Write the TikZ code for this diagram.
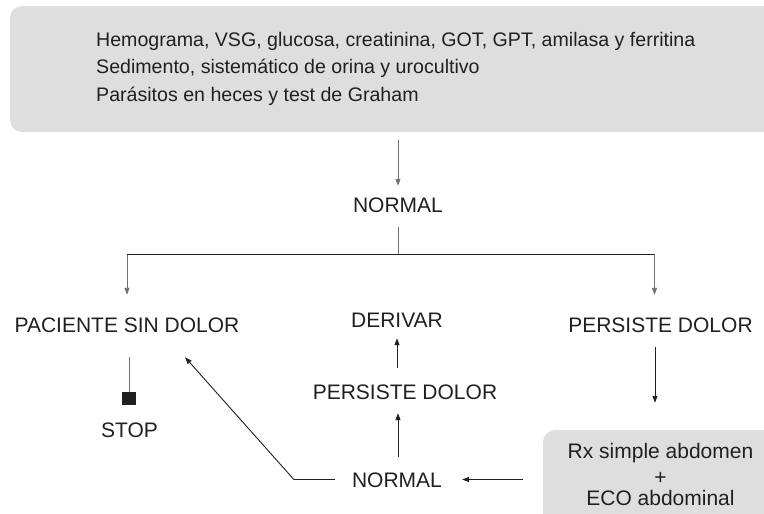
\documentclass[tikz,border=0pt]{standalone}
\usepackage{fontspec}
\setmainfont{Liberation Sans}
\usetikzlibrary{arrows.meta}
\definecolor{boxgray}{HTML}{DEDEDE}
\definecolor{ink}{HTML}{231F20}
\definecolor{lgray}{HTML}{707070}
\begin{document}
\begin{tikzpicture}[x=1pt,y=-1pt,
  lbl/.style={inner sep=0pt, anchor=base, text=ink, font=\fontsize{21}{25}\selectfont, text height=15pt, text depth=0pt},
  boxtxt/.style={inner sep=0pt, anchor=base west, text=ink, font=\fontsize{19.6}{23}\selectfont},
  gbox/.style={rectangle, rounded corners=12pt, fill=boxgray, inner sep=0pt},
  arr/.style={draw=ink, line width=0.9pt, -{Triangle[length=7pt,width=5pt]}},
  ln/.style={draw=ink, line width=0.9pt},
  sq/.style={fill=ink, inner sep=0pt, minimum width=14pt, minimum height=13pt}]
\useasboundingbox (0,0) rectangle (764,514);
\clip (0,0) rectangle (764,514);
% top box
\node[gbox, minimum width=770pt, minimum height=126pt] (box1) at (395,69) {};
\node[boxtxt] (t1) at (96,46) {Hemograma, VSG, glucosa, creatinina, GOT, GPT, amilasa y ferritina};
\node[boxtxt] (t2) at (96,73) {Sedimento, sistemático de orina y urocultivo};
\node[boxtxt] (t3) at (96,101) {Parásitos en heces y test de Graham};
% labels
\node[lbl] (nA) at (398,212) {NORMAL};
\node[lbl] (pac) at (127,332) {PACIENTE SIN DOLOR};
\node[lbl] (der) at (397,327) {DERIVAR};
\node[lbl] (pd1) at (660.5,332) {PERSISTE DOLOR};
\node[lbl] (pd2) at (405,399) {PERSISTE DOLOR};
\node[lbl] (nB) at (397,487) {NORMAL};
\node[sq] (stopsq) at (129,398.5) {};
\node[lbl] (stop) at (129.5,437) {STOP};
% bottom right box
\node[gbox, minimum width=257pt, minimum height=110pt] (box2) at (671.5,485) {};
\node[lbl] (r1) at (660.5,458) {Rx simple abdomen};
\node[lbl] (r2) at (660.5,484) {+};
\node[lbl] (r3) at (660.5,505) {ECO abdominal};
% connectors
\draw[arr, draw=lgray, shorten <=8pt, shorten >=11pt] (nA.north |- box1.south) -- (nA.north);
\draw[arr, draw=lgray, shorten <=15pt, shorten >=22pt] (nA.south) -- ++(0,42) -| (pac.north);
\draw[arr, draw=lgray, shorten <=15pt, shorten >=22pt] (nA.south) -- ++(0,42) -| ([xshift=-6pt]pd1.north);
\draw[ln, draw=ink] (nA.south) ++(0,42) -- ++(-271,0);
\draw[ln, draw=ink] (nA.south) ++(0,42) -- ++(256,0);
\draw[ln, draw=lgray, shorten <=25pt] (stopsq.north |- pac.south) -- (stopsq.north);
\draw[arr, shorten <=17pt] (nB.west) -- ++(-58,0) -- ([shift={(58,25)}]pac.south);
\draw[arr, shorten <=20pt, shorten >=20pt] (box2.west |- nB.east) -- (nB.east);
\draw[arr, shorten <=15pt, shorten >=14pt] ([xshift=1pt]nB.north) -- ([xshift=1pt]nB.north |- pd2.south);
\draw[arr, shorten <=16pt, shorten >=11pt] (der.south |- pd2.north) -- (der.south);
\draw[arr, shorten <=15pt, shorten >=27pt] ([xshift=-5.5pt]pd1.south) -- ([xshift=-5.5pt]pd1.south |- box2.north);
\end{tikzpicture}
\end{document}
